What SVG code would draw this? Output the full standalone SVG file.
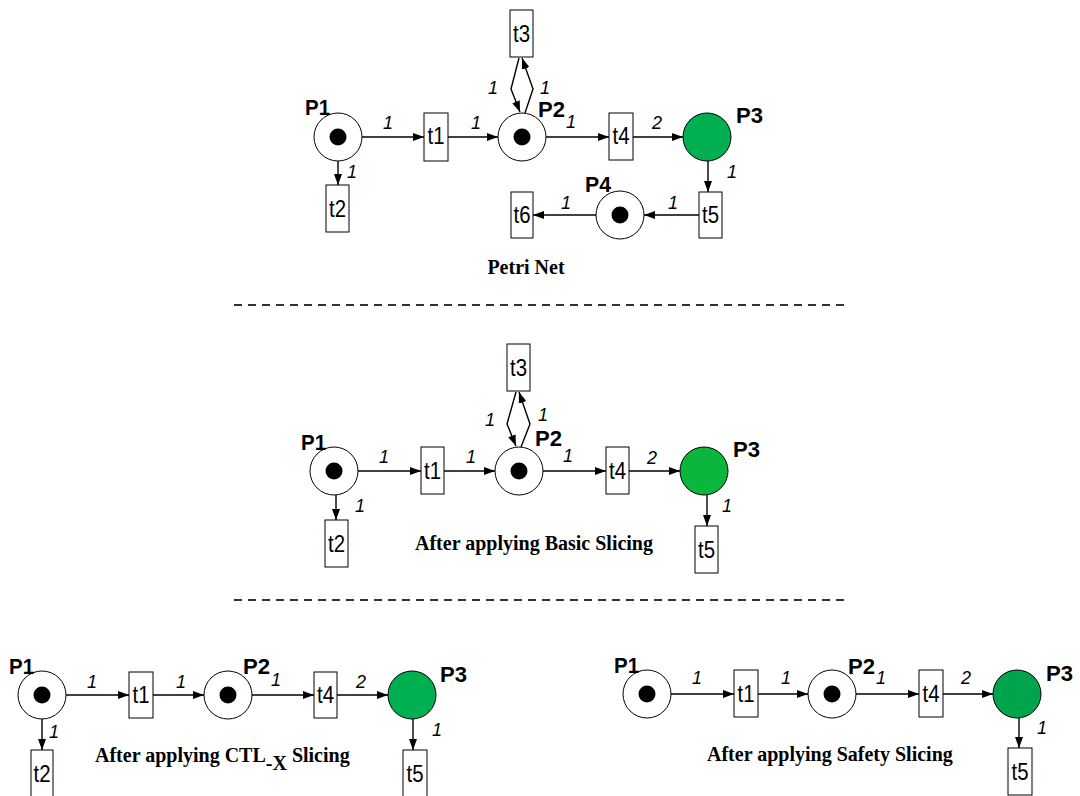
<svg xmlns="http://www.w3.org/2000/svg" width="1080" height="796" viewBox="0 0 1080 796">
  <style>
    .place { fill: #ffffff; stroke: #000; stroke-width: 1; }
    .goal { stroke: #000; stroke-width: 1; }
    .token { fill: #000; }
    .trans { fill: #ffffff; stroke: #000; stroke-width: 1; }
    .ttext { font-family: "Liberation Sans", Arial, sans-serif; font-size: 24px; fill: #000; text-anchor: middle; }
    .pname { font-family: "Liberation Sans", Arial, sans-serif; font-size: 22px; font-weight: bold; fill: #000; }
    .w { font-family: "Liberation Sans", Arial, sans-serif; font-size: 18px; font-style: italic; fill: #000; }
    .arc { fill: none; stroke: #000; stroke-width: 1.4; marker-end: url(#head); }
    .sep { stroke: #333; stroke-width: 2; stroke-dasharray: 8 6; }
    .caption { font-family: "Liberation Serif", "Times New Roman", serif; font-size: 20px; font-weight: bold; fill: #000; }
  </style>
  <defs>
    <marker id="head" markerUnits="userSpaceOnUse" markerWidth="11" markerHeight="8" refX="11" refY="4" orient="auto">
      <path d="M0,0 L11,4 L0,8 z" fill="#000"/>
    </marker>
  </defs>
  <rect width="1080" height="796" fill="#ffffff"/>

  <!-- Net 1: full Petri net -->
  <g id="net1">
    <g id="n1-P1"><circle class="place" cx="338" cy="137" r="24"/><circle class="token" cx="338" cy="137" r="8.5"/><text class="pname" x="305" y="115" textLength="25" lengthAdjust="spacingAndGlyphs">P1</text></g>
    <g id="n1-P2"><circle class="place" cx="522" cy="137" r="24"/><circle class="token" cx="522" cy="137" r="8.5"/><text class="pname" x="538" y="117" textLength="27" lengthAdjust="spacingAndGlyphs">P2</text></g>
    <g id="n1-P3"><circle class="goal" cx="707" cy="137" r="24" fill="#00b050"/><text class="pname" x="736" y="123" textLength="27" lengthAdjust="spacingAndGlyphs">P3</text></g>
    <g id="n1-P4"><circle class="place" cx="620" cy="215" r="24"/><circle class="token" cx="620" cy="215" r="8.5"/><text class="pname" x="585" y="192" textLength="26" lengthAdjust="spacingAndGlyphs">P4</text></g>
    <g id="n1-t1"><rect class="trans" x="424" y="113" width="24" height="48"/><text class="ttext" x="436" y="144" textLength="17" lengthAdjust="spacingAndGlyphs">t1</text></g>
    <g id="n1-t2"><rect class="trans" x="326" y="185" width="23" height="47"/><text class="ttext" x="337.5" y="217" textLength="17" lengthAdjust="spacingAndGlyphs">t2</text></g>
    <g id="n1-t3"><rect class="trans" x="510" y="10" width="23" height="47"/><text class="ttext" x="521.5" y="42" textLength="17" lengthAdjust="spacingAndGlyphs">t3</text></g>
    <g id="n1-t4"><rect class="trans" x="609" y="113" width="24" height="47"/><text class="ttext" x="621" y="144" textLength="17" lengthAdjust="spacingAndGlyphs">t4</text></g>
    <g id="n1-t5"><rect class="trans" x="699" y="192" width="23" height="46"/><text class="ttext" x="710.5" y="223" textLength="17" lengthAdjust="spacingAndGlyphs">t5</text></g>
    <g id="n1-t6"><rect class="trans" x="511" y="192" width="22" height="46"/><text class="ttext" x="522" y="223" textLength="17" lengthAdjust="spacingAndGlyphs">t6</text></g>
    <g id="n1-arcs">
      <line class="arc" x1="362" y1="137" x2="424" y2="137"/>
      <line class="arc" x1="448" y1="137" x2="498" y2="137"/>
      <line class="arc" x1="546" y1="137" x2="609" y2="137"/>
      <line class="arc" x1="633" y1="137" x2="683" y2="137"/>
      <line class="arc" x1="338" y1="161" x2="338" y2="185"/>
      <line class="arc" x1="708" y1="161" x2="708" y2="192"/>
      <line class="arc" x1="699" y1="215" x2="644" y2="215"/>
      <line class="arc" x1="596" y1="215" x2="533" y2="215"/>
      <polyline class="arc" points="519,58 511,89 520,112"/>
      <polyline class="arc" points="525,113 533,89 522,58"/>
    </g>
    <g id="n1-weights">
      <text class="w" x="383" y="129">1</text>
      <text class="w" x="471" y="129">1</text>
      <text class="w" x="566" y="128">1</text>
      <text class="w" x="652" y="129">2</text>
      <text class="w" x="488" y="94">1</text>
      <text class="w" x="540" y="94">1</text>
      <text class="w" x="347" y="178">1</text>
      <text class="w" x="727" y="178">1</text>
      <text class="w" x="668" y="209">1</text>
      <text class="w" x="561" y="209">1</text>
    </g>
    <text class="caption" x="526" y="274" text-anchor="middle">Petri Net</text>
  </g>

  <line class="sep" x1="234" y1="305" x2="848" y2="305"/>

  <!-- Net 2: basic slicing -->
  <g id="net2">
    <g id="n2-P1"><circle class="place" cx="334" cy="471" r="24"/><circle class="token" cx="334" cy="471" r="8.5"/><text class="pname" x="301" y="450" textLength="25" lengthAdjust="spacingAndGlyphs">P1</text></g>
    <g id="n2-P2"><circle class="place" cx="519" cy="471" r="24"/><circle class="token" cx="519" cy="471" r="8.5"/><text class="pname" x="535" y="446" textLength="27" lengthAdjust="spacingAndGlyphs">P2</text></g>
    <g id="n2-P3"><circle class="goal" cx="704" cy="471" r="24" fill="#0ab63c"/><text class="pname" x="733" y="457" textLength="27" lengthAdjust="spacingAndGlyphs">P3</text></g>
    <g id="n2-t1"><rect class="trans" x="421" y="447" width="23" height="47"/><text class="ttext" x="432.5" y="479" textLength="17" lengthAdjust="spacingAndGlyphs">t1</text></g>
    <g id="n2-t2"><rect class="trans" x="325" y="520" width="23" height="47"/><text class="ttext" x="336.5" y="552" textLength="17" lengthAdjust="spacingAndGlyphs">t2</text></g>
    <g id="n2-t3"><rect class="trans" x="507" y="344" width="23" height="47"/><text class="ttext" x="518.5" y="376" textLength="17" lengthAdjust="spacingAndGlyphs">t3</text></g>
    <g id="n2-t4"><rect class="trans" x="606" y="447" width="23" height="47"/><text class="ttext" x="617.5" y="479" textLength="17" lengthAdjust="spacingAndGlyphs">t4</text></g>
    <g id="n2-t5"><rect class="trans" x="695" y="526" width="23" height="47"/><text class="ttext" x="706.5" y="558" textLength="17" lengthAdjust="spacingAndGlyphs">t5</text></g>
    <g id="n2-arcs">
      <line class="arc" x1="358" y1="471" x2="421" y2="471"/>
      <line class="arc" x1="444" y1="471" x2="495" y2="471"/>
      <line class="arc" x1="543" y1="471" x2="606" y2="471"/>
      <line class="arc" x1="629" y1="471" x2="680" y2="471"/>
      <line class="arc" x1="336" y1="495" x2="336" y2="520"/>
      <line class="arc" x1="707" y1="495" x2="707" y2="526"/>
      <polyline class="arc" points="516,392 507,424 516,446"/>
      <polyline class="arc" points="521,447 530,424 519,392"/>
    </g>
    <g id="n2-weights">
      <text class="w" x="379" y="463">1</text>
      <text class="w" x="466" y="463">1</text>
      <text class="w" x="563" y="462">1</text>
      <text class="w" x="647" y="464">2</text>
      <text class="w" x="485" y="426">1</text>
      <text class="w" x="538" y="421">1</text>
      <text class="w" x="355" y="512">1</text>
      <text class="w" x="722" y="512">1</text>
    </g>
    <text class="caption" x="534" y="550" text-anchor="middle">After applying Basic Slicing</text>
  </g>

  <line class="sep" x1="234" y1="600" x2="850" y2="600"/>

  <!-- Net 3: CTL-X slicing -->
  <g id="net3">
    <g id="n3-P1"><circle class="place" cx="42" cy="695" r="24"/><circle class="token" cx="42" cy="695" r="8.5"/><text class="pname" x="9" y="674" textLength="25" lengthAdjust="spacingAndGlyphs">P1</text></g>
    <g id="n3-P2"><circle class="place" cx="228" cy="695" r="24"/><circle class="token" cx="228" cy="695" r="8.5"/><text class="pname" x="243" y="674" textLength="27" lengthAdjust="spacingAndGlyphs">P2</text></g>
    <g id="n3-P3"><circle class="goal" cx="412" cy="695" r="24" fill="#00b050"/><text class="pname" x="440" y="682" textLength="27" lengthAdjust="spacingAndGlyphs">P3</text></g>
    <g id="n3-t1"><rect class="trans" x="129" y="672" width="24" height="46"/><text class="ttext" x="141" y="703" textLength="17" lengthAdjust="spacingAndGlyphs">t1</text></g>
    <g id="n3-t2"><rect class="trans" x="31" y="750" width="22" height="48"/><text class="ttext" x="42" y="782" textLength="17" lengthAdjust="spacingAndGlyphs">t2</text></g>
    <g id="n3-t4"><rect class="trans" x="314" y="672" width="23" height="46"/><text class="ttext" x="325.5" y="703" textLength="17" lengthAdjust="spacingAndGlyphs">t4</text></g>
    <g id="n3-t5"><rect class="trans" x="403" y="750" width="24" height="48"/><text class="ttext" x="415" y="782" textLength="17" lengthAdjust="spacingAndGlyphs">t5</text></g>
    <g id="n3-arcs">
      <line class="arc" x1="66" y1="695" x2="129" y2="695"/>
      <line class="arc" x1="153" y1="695" x2="204" y2="695"/>
      <line class="arc" x1="252" y1="695" x2="314" y2="695"/>
      <line class="arc" x1="337" y1="695" x2="388" y2="695"/>
      <line class="arc" x1="42" y1="719" x2="42" y2="750"/>
      <line class="arc" x1="413" y1="719" x2="413" y2="750"/>
    </g>
    <g id="n3-weights">
      <text class="w" x="87" y="688">1</text>
      <text class="w" x="176" y="688">1</text>
      <text class="w" x="271" y="686">1</text>
      <text class="w" x="356" y="688">2</text>
      <text class="w" x="49" y="738">1</text>
      <text class="w" x="432" y="736">1</text>
    </g>
    <text class="caption" x="95" y="762">After applying CTL<tspan dy="8">-X</tspan><tspan dy="-8"> Slicing</tspan></text>
  </g>

  <!-- Net 4: safety slicing -->
  <g id="net4">
    <g id="n4-P1"><circle class="place" cx="647" cy="694" r="24"/><circle class="token" cx="647" cy="694" r="8.5"/><text class="pname" x="614" y="673" textLength="25" lengthAdjust="spacingAndGlyphs">P1</text></g>
    <g id="n4-P2"><circle class="place" cx="832" cy="694" r="24"/><circle class="token" cx="832" cy="694" r="8.5"/><text class="pname" x="848" y="674" textLength="27" lengthAdjust="spacingAndGlyphs">P2</text></g>
    <g id="n4-P3"><circle class="goal" cx="1017" cy="694" r="24" fill="#00a44c"/><text class="pname" x="1046" y="681" textLength="27" lengthAdjust="spacingAndGlyphs">P3</text></g>
    <g id="n4-t1"><rect class="trans" x="734" y="670" width="24" height="47"/><text class="ttext" x="746" y="702" textLength="17" lengthAdjust="spacingAndGlyphs">t1</text></g>
    <g id="n4-t4"><rect class="trans" x="919" y="670" width="24" height="47"/><text class="ttext" x="931" y="702" textLength="17" lengthAdjust="spacingAndGlyphs">t4</text></g>
    <g id="n4-t5"><rect class="trans" x="1008" y="748" width="24" height="47"/><text class="ttext" x="1020" y="780" textLength="17" lengthAdjust="spacingAndGlyphs">t5</text></g>
    <g id="n4-arcs">
      <line class="arc" x1="671" y1="694" x2="734" y2="694"/>
      <line class="arc" x1="758" y1="694" x2="808" y2="694"/>
      <line class="arc" x1="856" y1="694" x2="919" y2="694"/>
      <line class="arc" x1="943" y1="694" x2="993" y2="694"/>
      <line class="arc" x1="1019" y1="718" x2="1019" y2="748"/>
    </g>
    <g id="n4-weights">
      <text class="w" x="692" y="684">1</text>
      <text class="w" x="781" y="684">1</text>
      <text class="w" x="876" y="684">1</text>
      <text class="w" x="961" y="684">2</text>
      <text class="w" x="1037" y="734">1</text>
    </g>
    <text class="caption" x="707" y="761">After applying Safety Slicing</text>
  </g>
</svg>
